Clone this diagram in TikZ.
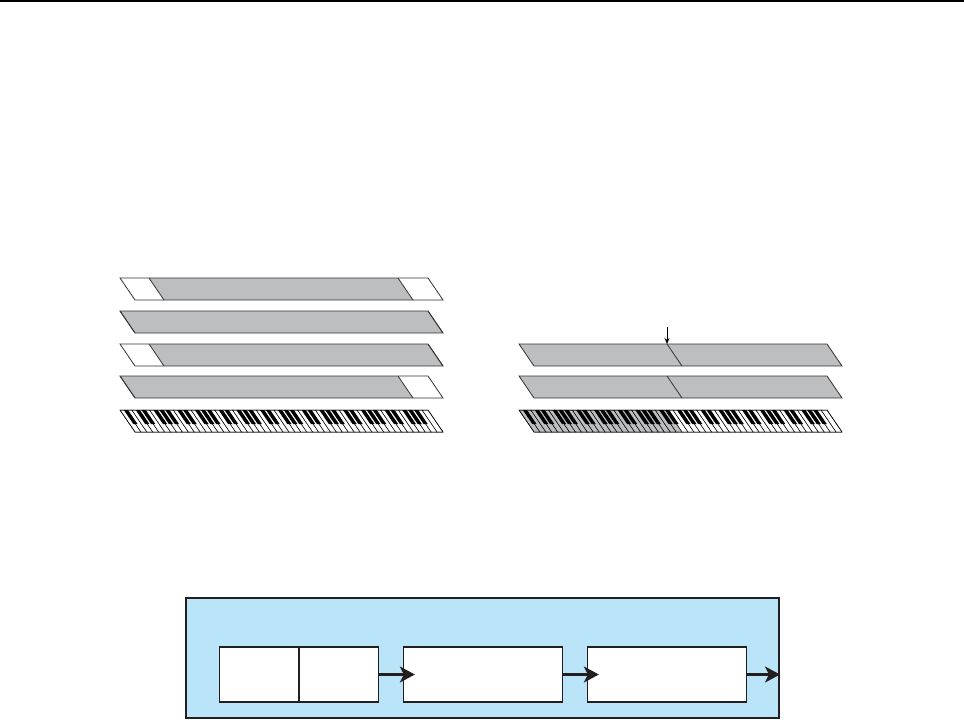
\documentclass[tikz,border=0pt]{standalone}
\usetikzlibrary{arrows.meta}
\definecolor{bandgray}{HTML}{BDBEC0}
\definecolor{panelblue}{HTML}{BAE4F8}
\definecolor{inkblack}{HTML}{231F20}
\tikzset{
  bandline/.style={draw=black!80,line width=0.8pt},
  keyline/.style={draw=black,line width=0.5pt},
  panelbox/.style={draw=inkblack,line width=2pt,fill=panelblue,rectangle,minimum width=593pt,minimum height=120pt,inner sep=0pt},
  unitbox/.style={draw=inkblack,line width=1.3pt,fill=white,rectangle,minimum width=159pt,minimum height=55pt,inner sep=0pt},
  flowarrow/.style={draw=inkblack,line width=2.2pt,-{Stealth[length=15pt,width=16pt,inset=4pt]}},
  pointer/.style={draw=black,line width=0.7pt,-{Stealth[length=6pt,width=5pt]}}
}
% band: x0, y0, left white width, right white width
\newcommand{\slantband}[4]{%
  \fill[bandgray] (#1,#2) -- (#1+308,#2) -- (#1+323,#2+22) -- (#1+15,#2+22) -- cycle;
  \fill[white] (#1,#2) -- (#1+#3,#2) -- (#1+#3+15,#2+22) -- (#1+15,#2+22) -- cycle;
  \fill[white] (#1+308-#4,#2) -- (#1+308,#2) -- (#1+323,#2+22) -- (#1+323-#4,#2+22) -- cycle;
  \draw[bandline] (#1+#3,#2) -- (#1+#3+15,#2+22);
  \draw[bandline] (#1+308-#4,#2) -- (#1+323-#4,#2+22);
  \draw[bandline] (#1,#2) -- (#1+308,#2) -- (#1+323,#2+22) -- (#1+15,#2+22) -- cycle;
}
% split band: x0, y0, split offset at top
\newcommand{\splitband}[3]{%
  \fill[bandgray] (#1,#2) -- (#1+308,#2) -- (#1+323,#2+22) -- (#1+15,#2+22) -- cycle;
  \draw[bandline] (#1+#3,#2) -- (#1+#3+15,#2+22);
  \draw[bandline] (#1,#2) -- (#1+308,#2) -- (#1+323,#2+22) -- (#1+15,#2+22) -- cycle;
}
% keyboard: x0, y0, number of gray white keys
\newcommand{\keyboard}[3]{%
  \foreach \i in {0,...,51}{%
    \pgfmathsetmacro{\xa}{#1+\i*308/52}%
    \pgfmathsetmacro{\xb}{#1+(\i+1)*308/52}%
    \ifnum\i<#3\relax
      \filldraw[keyline,fill=bandgray] (\xa,#2) -- (\xb,#2) -- (\xb+15,#2+22) -- (\xa+15,#2+22) -- cycle;
    \else
      \filldraw[keyline,fill=white] (\xa,#2) -- (\xb,#2) -- (\xb+15,#2+22) -- (\xa+15,#2+22) -- cycle;
    \fi
  }
  \foreach \b in {1,3,4,6,7,8,10,11,13,14,15,17,18,20,21,22,24,25,27,28,29,31,32,34,35,36,38,39,41,42,43,45,46,48,49,50}{%
    \pgfmathsetmacro{\xc}{#1+\b*308/52}%
    \fill[black] (\xc-2.1,#2) -- (\xc+2.1,#2) -- (\xc+2.1+9.5,#2+14) -- (\xc-2.1+9.5,#2+14) -- cycle;
  }
  \draw[keyline] (#1,#2) -- (#1+308,#2) -- (#1+323,#2+22) -- (#1+15,#2+22) -- cycle;
}
\begin{document}
\begin{tikzpicture}[x=1pt,y=-1pt]
\useasboundingbox (0,0) rectangle (964,720);
% top rule
\fill[black] (0,0) rectangle (964,2.2);

% left stack
\slantband{120}{278}{29}{30}
\slantband{120}{311}{0}{0}
\slantband{120}{344}{29}{0}
\slantband{120}{376}{0}{30}
\keyboard{120}{410}{0}

% right stack
\splitband{519}{344}{148}
\splitband{519}{376}{148}
\keyboard{519}{410}{25}
\coordinate (splitTop) at (667,327);
\coordinate (splitPt) at (667,344);
\draw[pointer] (splitTop) -- (splitPt);

% bottom panel
\node[panelbox] (panel) at (482.5,658) {};
\node[unitbox] (u1) at (299,674.5) {};
\draw[inkblack,line width=1.1pt] (u1.north) -- (u1.south);
\node[unitbox] (u2) at (483,674.5) {};
\node[unitbox] (u3) at (667,674.5) {};
\draw[flowarrow] (u1.east) -- ([xshift=12pt]u2.west);
\draw[flowarrow] (u2.east) -- ([xshift=12pt]u3.west);
\draw[flowarrow] (u3.east) -- (panel.east |- u3.east);
\end{tikzpicture}
\end{document}
